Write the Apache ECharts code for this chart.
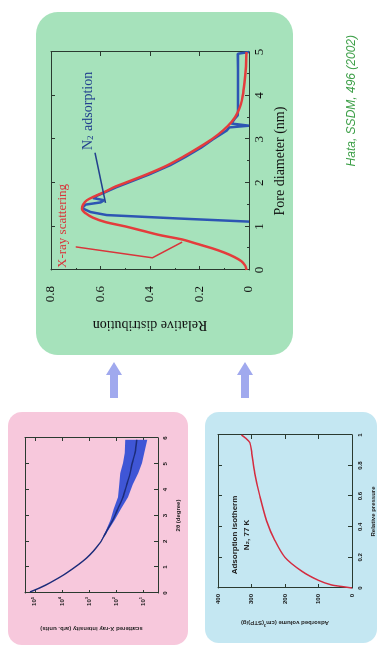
<!DOCTYPE html>
<html><head><meta charset="utf-8">
<script src="https://cdn.jsdelivr.net/npm/echarts/dist/echarts.min.js"></script>
<style>
html,body{margin:0;padding:0;background:#fff;overflow:hidden;width:382px;height:653px;}
#c{position:absolute;left:0;top:0;width:653px;height:382px;transform-origin:0 0;transform:translate(0,653px) rotate(-90deg);}
</style></head><body><div id="c"></div>
<script>
// ---- Main chart: pore size distribution ----
const xrayX = [0,0.1,0.2,0.3,0.4,0.5,0.6,0.7,0.8,0.9,1.0,1.1,1.2,1.3,1.4,1.5,1.6,1.7,1.8,1.9,2.0,2.2,2.4,2.6,2.8,3.0,3.2,3.4,3.6,3.8,4.0,4.3,4.6,5.0];
const xrayY = [0.01,0.015,0.03,0.06,0.1,0.15,0.21,0.27,0.36,0.43,0.5,0.58,0.63,0.66,0.675,0.67,0.655,0.62,0.58,0.545,0.5,0.41,0.33,0.265,0.205,0.15,0.105,0.07,0.047,0.033,0.025,0.018,0.013,0.01];
const n2X = [1.11,1.18,1.26,1.33,1.42,1.5,1.55,1.6,1.65,1.7,1.8,1.9,2.0,2.2,2.4,2.6,2.8,3.0,3.2,3.27,3.31,3.36,3.45,3.55,3.8,4.2,4.6,4.96,5.0];
const n2Y = [0,0.28,0.575,0.64,0.675,0.66,0.6,0.585,0.63,0.615,0.575,0.535,0.49,0.4,0.32,0.255,0.195,0.145,0.09,0.08,0.0,0.072,0.06,0.045,0.044,0.044,0.044,0.045,0.0];
const xrayPtrX = [0.53,0.28,0.64];
const xrayPtrY = [0.70,0.39,0.27];
const n2PtrX = [2.69,1.54];
const n2PtrY = [0.622,0.58];
// ---- Small-angle X-ray scattering (pink panel) ----
const sasX = [0.04,0.2,0.39,0.77,1.36,1.94,2.4,2.83,3.26,3.71,4.2,4.64,5.03,5.42,5.93];
const sasY = [1.5e5,6.5e4,2.8e4,6.8e3,1.2e3,390,220,130,85,55,40,30,25,20,17];
const sasLow = [1.5e5,6.5e4,2.8e4,6.8e3,1.2e3,390,200,110,65,36,24,15,11,9,7];
const sasHigh = [1.5e5,6.5e4,2.8e4,6.8e3,1.2e3,390,240,160,120,85,75,70,55,47,45];
// ---- Adsorption isotherm (blue panel) ----
const isoX = [0,0.01,0.02,0.05,0.11,0.2,0.31,0.44,0.6,0.75,0.88,0.95,0.98,1.0];
const isoY = [0,31,61,100,150,200,230,255,275,290,299,305,318,330];

const serif = 'Liberation Serif';
const toPairs = (xs, ys) => xs.map((x, i) => [x, ys[i]]);

function frameAxes(gi, min, max, interval, opts) {
  return [
    Object.assign({
      gridIndex: gi, type: 'value', min, max, interval, position: opts.pos1,
      axisLine: {show: true, onZero: false, lineStyle: {color: '#2a3a30', width: 1}},
      axisTick: {show: true, inside: true, length: 4, lineStyle: {color: '#2a3a30'}},
      splitLine: {show: false},
      axisLabel: {show: true, color: '#111', fontFamily: serif, fontSize: opts.fs, margin: opts.margin}
    }, opts.extra || {}),
    Object.assign({
      gridIndex: gi, type: 'value', min, max, interval, position: opts.pos2,
      axisLine: {show: true, onZero: false, lineStyle: {color: '#2a3a30', width: 1}},
      axisTick: {show: true, inside: true, length: 4, lineStyle: {color: '#2a3a30'}},
      splitLine: {show: false}, axisLabel: {show: false}
    }, opts.extra2 || {})
  ];
}

const smallFont = {fontFamily: 'Liberation Sans', fontSize: 6, fontWeight: 'bold', color: '#222'};

const xAxes = [].concat(
  frameAxes(0, 0, 5, 1, {pos1: 'bottom', pos2: 'top', fs: 13, margin: 4,
    extra: {name: 'Pore diameter (nm)', nameLocation: 'middle', nameGap: 24,
      nameTextStyle: {fontFamily: serif, fontSize: 14, color: '#111'},
      minorTick: {show: true, splitNumber: 2, length: 2}}}),
  frameAxes(1, 0, 6, 1, {pos1: 'bottom', pos2: 'top', fs: 6, margin: 4,
    extra: {name: '2\u03b8 (degree)', nameLocation: 'middle', nameGap: 17, nameTextStyle: smallFont,
      axisLabel: {show: true, color: '#111', fontFamily: 'Liberation Sans', fontSize: 6, fontWeight: 'bold', margin: 4}}}),
  frameAxes(2, 0, 1, 0.2, {pos1: 'bottom', pos2: 'top', fs: 6, margin: 4,
    extra: {name: 'Relative pressure', nameLocation: 'middle', nameGap: 18, nameTextStyle: smallFont,
      axisLabel: {show: true, color: '#111', fontFamily: 'Liberation Sans', fontSize: 6, fontWeight: 'bold', margin: 5,
        formatter: v => v === 0 ? '0' : (v === 1 ? '1' : v.toFixed(1))}}})
);

const yAxes = [].concat(
  frameAxes(0, 0, 0.8, 0.2, {pos1: 'left', pos2: 'right', fs: 13, margin: 16,
    extra: {name: 'Relative distribution', nameLocation: 'middle', nameGap: 48,
      nameTextStyle: {fontFamily: serif, fontSize: 14, color: '#111'},
      axisLabel: {show: true, color: '#111', fontFamily: serif, fontSize: 13, margin: 16,
        formatter: v => v === 0 ? '0' : v.toFixed(1)},
      minorTick: {show: true, splitNumber: 2, length: 2}}}),
  [
    {gridIndex: 1, type: 'log', logBase: 10, min: 2.8, max: 2.3e5, position: 'left',
      axisLine: {show: true, onZero: false, lineStyle: {color: '#2a3a30'}},
      axisTick: {show: true, inside: true, length: 3},
      splitLine: {show: false},
      axisLabel: {show: true, fontSize: 6, fontFamily: 'Liberation Sans', fontWeight: 'bold', color: '#222', margin: 4,
        showMinLabel: false, showMaxLabel: false,
        formatter: v => '10{s|' + Math.round(Math.log10(v)) + '}',
        rich: {s: {fontSize: 4, fontWeight: 'bold', padding: [0,0,4,0]}}},
      name: 'scattered X-ray intensity (arb. units)', nameLocation: 'middle', nameGap: 33, nameTextStyle: smallFont},
    {gridIndex: 1, type: 'log', logBase: 10, min: 2.8, max: 2.3e5, position: 'right',
      axisLine: {show: true, onZero: false, lineStyle: {color: '#2a3a30'}},
      axisTick: {show: true, inside: true, length: 3}, splitLine: {show: false}, axisLabel: {show: false}}
  ],
  frameAxes(2, 0, 400, 100, {pos1: 'left', pos2: 'right', fs: 6, margin: 6,
    extra: {name: '{a|Adsorbed volume (cm}{s|3}{a|(STP)/g)}', nameLocation: 'middle', nameGap: 31,
      nameTextStyle: {rich: {a: smallFont,
        s: {fontFamily: 'Liberation Sans', fontSize: 4, fontWeight: 'bold', color: '#222', padding: [0,0,4,0]}}},
      axisLabel: {show: true, color: '#111', fontFamily: 'Liberation Sans', fontSize: 6, fontWeight: 'bold', margin: 6}}})
);

function arrow(v) {
  return {type: 'polygon', shape: {points: [[255, v - 4], [278, v - 4], [278, v - 8], [291, v], [278, v + 8], [278, v + 4], [255, v + 4]]},
    style: {fill: '#a0a9ee'}, z: 1};
}

const chart = echarts.init(document.getElementById('c'), null, {renderer: 'canvas'});
chart.setOption({
  animation: false,
  backgroundColor: '#ffffff',
  grid: [
    {left: 383, top: 51, width: 218, height: 198},
    {left: 60, top: 25, width: 155, height: 133},
    {left: 65, top: 218, width: 153, height: 134}
  ],
  xAxis: xAxes,
  yAxis: yAxes,
  graphic: [
    {type: 'rect', shape: {x: 298, y: 36, width: 343, height: 257, r: 22}, style: {fill: '#a6e2bb'}, z: -10},
    {type: 'rect', shape: {x: 8, y: 8, width: 233, height: 180, r: 14}, style: {fill: '#f7c8dc'}, z: -10},
    {type: 'rect', shape: {x: 10, y: 205, width: 231, height: 172, r: 14}, style: {fill: '#c4e7f2'}, z: -10},
    arrow(114), arrow(245),
    {type: 'text', x: 385, y: 63, style: {text: 'X-ray scattering', font: '13px "Liberation Serif"', fill: '#d9343a', textVerticalAlign: 'middle'}, z: 10},
    {type: 'text', x: 503, y: 88, style: {text: '{a|N}{s|2}{a| adsorption}', textVerticalAlign: 'middle', fill: '#22408e',
      rich: {a: {fontFamily: serif, fontSize: 14, fill: '#22408e'}, s: {fontFamily: serif, fontSize: 9, fill: '#22408e', padding: [6,1,0,0]}}}, z: 10},
    {type: 'text', x: 618, y: 352, style: {text: 'Hata, SSDM, 496 (2002)', font: 'italic 12px "Liberation Sans"', fill: '#3fa04a', textAlign: 'right', textVerticalAlign: 'middle'}, z: 10},
    {type: 'text', x: 118, y: 241, style: {text: 'Adsorption isotherm\nN\u2082, 77 K', font: 'bold 8px "Liberation Sans"', fill: '#222', textAlign: 'center', textVerticalAlign: 'middle', lineHeight: 12}, z: 10}
  ],
  series: [
    {type: 'line', xAxisIndex: 0, yAxisIndex: 0, data: toPairs(n2X, n2Y), showSymbol: false, symbol: 'none',
      lineStyle: {color: '#2d55b3', width: 2.5}, z: 3},
    {type: 'line', xAxisIndex: 0, yAxisIndex: 0, data: toPairs(xrayX, xrayY), showSymbol: false, symbol: 'none', smooth: 0.3,
      lineStyle: {color: '#e43c3c', width: 2.5}, z: 4},
    {type: 'line', xAxisIndex: 0, yAxisIndex: 0, data: toPairs(xrayPtrX, xrayPtrY), showSymbol: false, symbol: 'none',
      lineStyle: {color: '#d9343a', width: 1.5}, z: 5},
    {type: 'line', xAxisIndex: 0, yAxisIndex: 0, data: toPairs(n2PtrX, n2PtrY), showSymbol: false, symbol: 'none',
      lineStyle: {color: '#22408e', width: 1.5}, z: 5},
    {type: 'custom', xAxisIndex: 2, yAxisIndex: 2, coordinateSystem: 'cartesian2d',
      data: sasX.map((x, i) => [x, sasLow[i], sasHigh[i]]), z: 2,
      renderItem: (params, api) => {
        if (params.dataIndex !== 0) return null;
        const up = [], lo = [];
        for (let i = 0; i < sasX.length; i++) {
          up.push(api.coord([sasX[i], sasHigh[i]]));
          lo.push(api.coord([sasX[i], sasLow[i]]));
        }
        return {type: 'polygon', shape: {points: up.concat(lo.reverse())}, style: {fill: '#3f56d6'}};
      }},
    {type: 'line', xAxisIndex: 2, yAxisIndex: 2, data: toPairs(sasX, sasY), showSymbol: false, symbol: 'none', smooth: 0.3,
      lineStyle: {color: '#1c2c7a', width: 1.5}, z: 3},
    {type: 'line', xAxisIndex: 4, yAxisIndex: 4, data: toPairs(isoX, isoY), showSymbol: false, symbol: 'none', smooth: 0.3,
      lineStyle: {color: '#d42c40', width: 1.5}, z: 3}
  ]
});
</script></body></html>
